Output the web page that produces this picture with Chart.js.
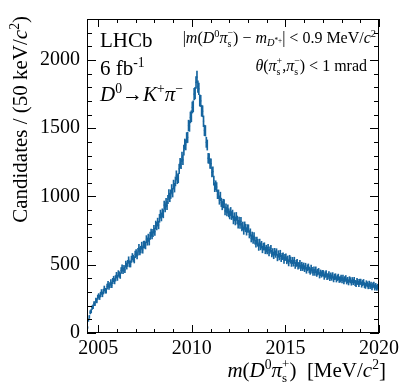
<!DOCTYPE html>
<html>
<head>
<meta charset="utf-8">
<script src="https://cdn.jsdelivr.net/npm/chart.js@4"></script>
<style>
	html, body { margin: 0; padding: 0; background: #fff; }
	canvas { display: block; }
</style>
</head>
<body>
<canvas id="canvas" width="403" height="383"></canvas>
<script>
// histogram: 50 keV bins from threshold to 2020 MeV/c2
const binLow = 2004.4;
const binWidth = 0.05;
const counts = [
	40, 95, 118, 152, 160, 186, 192, 215, 214, 240, 236, 262,
	272, 261, 282, 301, 282, 303, 326, 310, 309, 340, 359, 337, 350, 372, 351, 381, 396, 379, 401, 424,
	405, 436, 428, 420, 457, 477, 455, 474, 463, 505, 490, 510, 535, 506, 506, 540, 559, 547, 536, 576,
	586, 566, 595, 625, 596, 611, 640, 609, 647, 648, 641, 687, 669, 698, 670, 712, 735, 716, 733, 761,
	742, 792, 783, 813, 791, 840, 871, 850, 880, 873, 936, 917, 955, 934, 978, 1018, 993, 1017, 1055, 1028,
	1087, 1065, 1110, 1154, 1127, 1135, 1202, 1244, 1238, 1289, 1268, 1339, 1384, 1378, 1430, 1433, 1520, 1516, 1579, 1588,
	1652, 1660, 1750, 1757, 1835, 1875, 1805, 1788, 1703, 1700, 1628, 1624, 1551, 1484, 1481, 1397, 1377, 1280, 1278, 1240,
	1240, 1177, 1182, 1116, 1068, 1082, 1069, 1016, 1016, 974, 1000, 957, 933, 949, 947, 895, 916, 888, 908, 880,
	865, 890, 860, 871, 828, 852, 820, 854, 828, 797, 820, 794, 818, 775, 785, 750, 786, 769, 744, 766,
	765, 723, 736, 693, 713, 683, 709, 676, 654, 677, 661, 630, 662, 634, 646, 612, 632, 636, 605, 618,
	604, 625, 588, 607, 618, 582, 594, 568, 596, 578, 593, 552, 579, 559, 582, 546, 560, 564, 533, 553,
	557, 530, 541, 514, 546, 534, 510, 531, 512, 532, 495, 510, 516, 490, 496, 509, 478, 496, 479, 491,
	471, 489, 459, 477, 484, 462, 451, 475, 460, 442, 464, 443, 463, 435, 446, 452, 423, 441, 429, 438,
	437, 413, 428, 436, 411, 415, 430, 404, 420, 406, 422, 394, 411, 414, 393, 404, 411, 390, 393, 404,
	387, 404, 379, 394, 401, 378, 388, 371, 393, 386, 369, 387, 373, 388, 366, 359, 381, 373, 359, 375,
	375, 354, 366, 373, 351, 345, 364, 356, 342, 361, 344, 355, 334, 348, 354, 332, 345, 331, 339, 329,
];

const xMin = 2004.4;
const xMax = 2020;
const yMin = 0;
const yMax = 2300;
const xTickLabels = [2005, 2010, 2015, 2020];
const yTickLabels = [0, 500, 1000, 1500, 2000];
const xMinorStep = 1;
const yMinorStep = 100;

const blue = "#16659f";
const SERIF = '"Liberation Serif", "DejaVu Serif", serif';

const centers = counts.map((_v, i) => binLow + binWidth * (i + 0.5));
const points = counts.map((v, i) => ({ x: centers[i], y: v }));
const errors = counts.map((v, i) => ({ x: centers[i], y: [v - Math.sqrt(v), v + Math.sqrt(v)] }));

// rich text helpers
const T = (t) => ({ t });
const I = (t) => ({ t, it: true });
const SUP = (t) => ({ t, s: 0.65, dy: 0.4 });
const SUB = (t, it) => ({ t, it, s: 0.65, dy: -0.2 });
const STACK = (lo, hi) => ({ stack: [lo, hi] });

function fontOf(it, size) {
	return (it ? "italic " : "") + size + "px " + SERIF;
}

function drawRuns(ctx, runs, x, y, size, align) {
	const parts = runs.map((r) => {
		if (r.stack) {
			ctx.font = fontOf(false, size * 0.62);
			const w = Math.max(ctx.measureText(r.stack[0]).width, ctx.measureText(r.stack[1]).width);
			return { r, w };
		}
		ctx.font = fontOf(r.it, size * (r.s || 1));
		return { r, w: ctx.measureText(r.t).width };
	});
	const total = parts.reduce((a, p) => a + p.w, 0);
	let cx = align === "right" ? x - total : x;
	ctx.textAlign = "left";
	ctx.textBaseline = "alphabetic";
	ctx.fillStyle = "#000";
	parts.forEach(({ r, w }) => {
		if (r.stack) {
			ctx.font = fontOf(false, size * 0.62);
			ctx.fillText(r.stack[0], cx, y + size * 0.22);
			ctx.fillText(r.stack[1], cx, y - size * 0.42);
		} else {
			ctx.font = fontOf(r.it, size * (r.s || 1));
			ctx.fillText(r.t, cx, y - size * (r.dy || 0));
		}
		cx += w;
	});
}

const frameAndText = {
	id: "frameAndText",
	afterDraw(chart) {
		const ctx = chart.ctx;
		const { left, right, top, bottom } = chart.chartArea;
		const xs = chart.scales.x;
		const ys = chart.scales.y;
		ctx.save();
		ctx.strokeStyle = "#000";
		ctx.lineWidth = 1;
		ctx.strokeRect(Math.round(left) + 0.5, Math.round(top) + 0.5, Math.round(right - left) - 1, Math.round(bottom - top) - 1);

		ctx.beginPath();
		for (let v = Math.ceil(xMin); v <= xMax; v += xMinorStep) {
			const px = Math.round(xs.getPixelForValue(v)) + 0.5;
			const len = xTickLabels.includes(v) ? 8 : 4;
			ctx.moveTo(px, bottom); ctx.lineTo(px, bottom - len);
			ctx.moveTo(px, top); ctx.lineTo(px, top + len);
		}
		for (let v = yMin; v <= yMax; v += yMinorStep) {
			const py = Math.round(ys.getPixelForValue(v)) + 0.5;
			const len = yTickLabels.includes(v) ? 9 : 5;
			ctx.moveTo(left, py); ctx.lineTo(left + len, py);
			ctx.moveTo(right, py); ctx.lineTo(right - len, py);
		}
		ctx.stroke();

		drawRuns(ctx, [T("LHCb")], 100, 47, 21);
		drawRuns(ctx, [T("6 fb"), SUP("-1")], 100, 75, 21);
		drawRuns(ctx, [I("D"), SUP("0"), T("\u2192"), I("K"), SUP("+"), I("\u03c0"), SUP("\u2212")], 100, 101, 21);
		drawRuns(ctx, [T("|"), I("m"), T("("), I("D"), SUP("0"), I("\u03c0"), STACK("s", "\u2212"), T(")"), T(" \u2212 "),
			I("m"), SUB("D", true), { t: "*+", s: 0.45, dy: -0.02 }, T("| < 0.9 MeV/"), I("c"), SUP("2")], 376, 43, 16, "right");
		drawRuns(ctx, [I("\u03b8"), T("("), I("\u03c0"), STACK("s", "+"), T(","), I("\u03c0"), STACK("s", "\u2212"), T(") < 1 mrad")],
			367, 71, 16, "right");

		drawRuns(ctx, [I("m"), T("("), I("D"), SUP("0"), I("\u03c0"), STACK("s", "+"), T(")  [MeV/"), I("c"), SUP("2"), T("]")],
			386, 377, 21, "right");

		ctx.translate(27, 16);
		ctx.rotate(-Math.PI / 2);
		drawRuns(ctx, [T("Candidates / (50 keV/"), I("c"), SUP("2"), T(")")], 0, 0, 21, "right");
		ctx.restore();
	},
};

const context = document.getElementById("canvas").getContext("2d");

new Chart(context, {
	type: "bar",
	data: {
		datasets: [
			{
				type: "bar",
				data: errors,
				backgroundColor: blue,
				barThickness: 1,
				grouped: false,
				order: 2,
			},
			{
				type: "scatter",
				data: points,
				pointStyle: "rect",
				pointRadius: 0.9,
				pointBorderWidth: 0,
				backgroundColor: blue,
				borderColor: blue,
				order: 1,
			},
		],
	},
	options: {
		responsive: false,
		animation: false,
		devicePixelRatio: 1,
		layout: { padding: { top: 17, right: 24, left: 0, bottom: 0 } },
		plugins: { legend: { display: false }, tooltip: { enabled: false } },
		scales: {
			x: {
				type: "linear",
				min: xMin,
				max: xMax,
				offset: false,
				grid: { display: false, drawTicks: false },
				border: { display: false },
				afterBuildTicks: (s) => { s.ticks = xTickLabels.map((v) => ({ value: v })); },
				ticks: {
					autoSkip: false,
					maxRotation: 0,
					padding: 4,
					color: "#000",
					font: { family: SERIF, size: 20 },
					callback: (v) => String(v),
				},
				afterFit: (s) => { s.height = 50; },
			},
			y: {
				min: yMin,
				max: yMax,
				grid: { display: false, drawTicks: false },
				border: { display: false },
				afterBuildTicks: (s) => { s.ticks = yTickLabels.map((v) => ({ value: v })); },
				ticks: {
					autoSkip: false,
					padding: 7,
					color: "#000",
					font: { family: SERIF, size: 20 },
					callback: (v) => String(v),
				},
				afterFit: (s) => { s.width = 87; },
			},
		},
	},
	plugins: [frameAndText],
});
</script>
</body>
</html>
